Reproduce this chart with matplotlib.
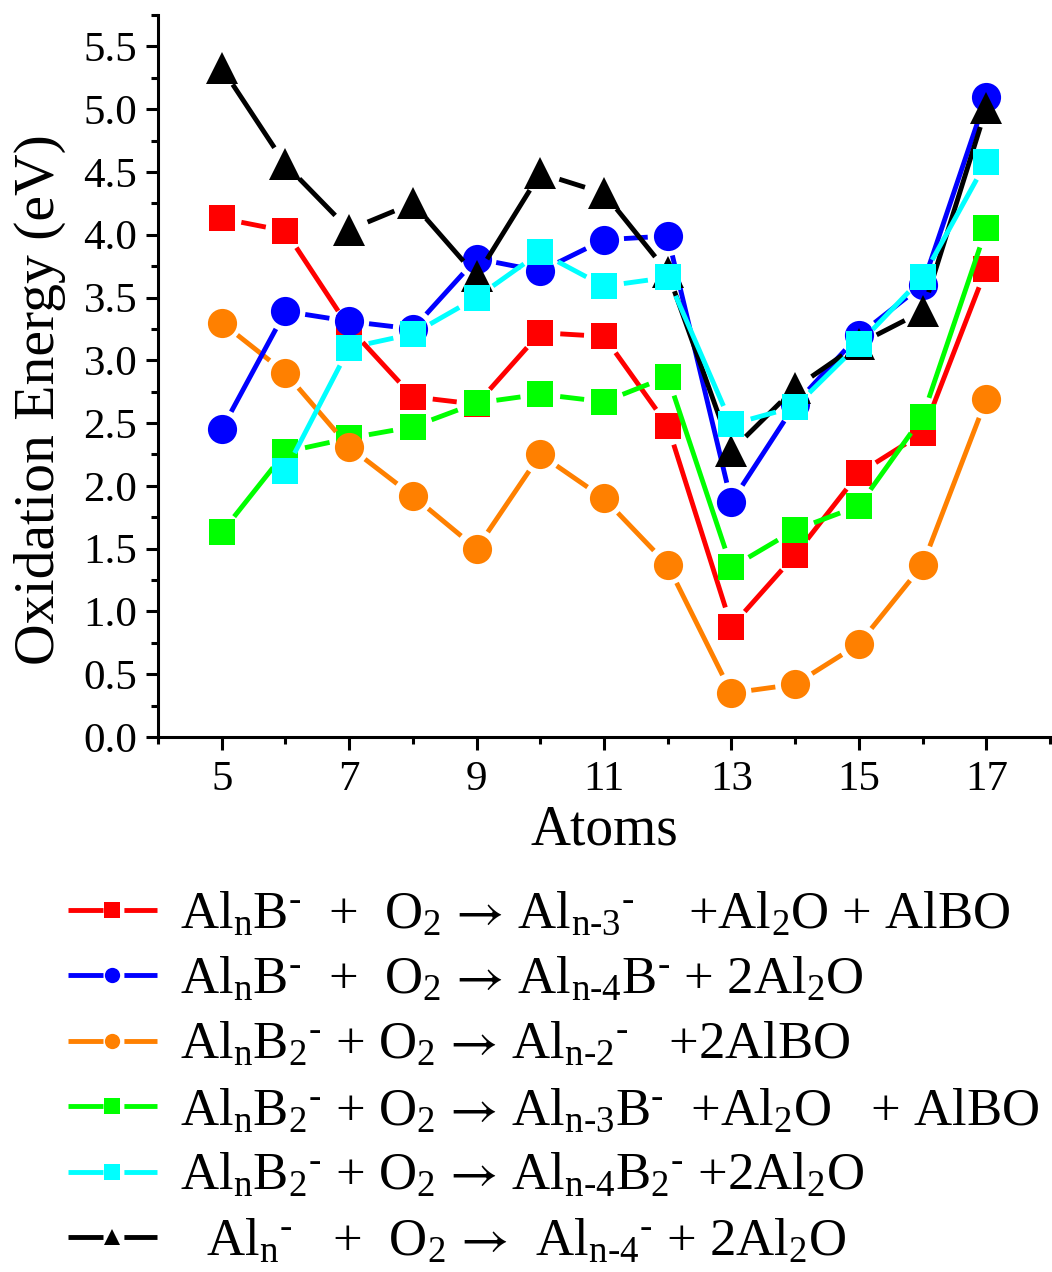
import numpy as np
import matplotlib
matplotlib.use("Agg")
import matplotlib.pyplot as plt
from matplotlib.lines import Line2D
from matplotlib.ticker import MultipleLocator, FormatStrFormatter

plt.rcParams['font.family'] = ['Liberation Serif', 'DejaVu Serif']
plt.rcParams['mathtext.fontset'] = 'custom'
plt.rcParams['mathtext.rm'] = 'Liberation Serif'
plt.rcParams['mathtext.it'] = 'Liberation Serif'
plt.rcParams['mathtext.sf'] = 'STIXGeneral'
plt.rcParams['mathtext.default'] = 'regular'

# ---------------- data ----------------
atoms = [5, 6, 7, 8, 9, 10, 11, 12, 13, 14, 15, 16, 17]
atoms_cyan = [6, 7, 8, 9, 10, 11, 12, 13, 14, 15, 16, 17]

red = [4.13, 4.03, 3.26, 2.71, 2.65, 3.22, 3.19, 2.48, 0.88, 1.45, 2.10, 2.42, 3.73]
blue = [2.45, 3.39, 3.31, 3.25, 3.81, 3.71, 3.96, 3.99, 1.87, 2.65, 3.20, 3.60, 5.10]
orange = [3.30, 2.90, 2.31, 1.92, 1.50, 2.25, 1.90, 1.37, 0.35, 0.42, 0.74, 1.37, 2.69]
green = [1.63, 2.27, 2.38, 2.47, 2.66, 2.73, 2.67, 2.87, 1.35, 1.65, 1.84, 2.55, 4.05]
cyan = [2.12, 3.10, 3.21, 3.50, 3.86, 3.59, 3.66, 2.49, 2.63, 3.13, 3.66, 4.58]
black = [5.33, 4.56, 4.04, 4.25, 3.67, 4.49, 4.33, 3.70, 2.28, 2.78, 3.13, 3.39, 5.01]

M = r'$^{\text{-}}$'
A = r' $\mathsf{→}$ '
labels = [
    r'Al$_n$B' + M + r'  +  O$_2$' + A + r'Al$_{n\text{-}3}$' + M + r'    +Al$_2$O + AlBO',
    r'Al$_n$B' + M + r'  +  O$_2$' + A + r'Al$_{n\text{-}4}$B' + M + r' + 2Al$_2$O',
    r'Al$_n$B$_2$' + M + r' + O$_2$' + A + r'Al$_{n\text{-}2}$' + M + r'   +2AlBO',
    r'Al$_n$B$_2$' + M + r' + O$_2$' + A + r'Al$_{n\text{-}3}$B' + M + r'  +Al$_2$O   + AlBO',
    r'Al$_n$B$_2$' + M + r' + O$_2$' + A + r'Al$_{n\text{-}4}$B$_2$' + M + r' +2Al$_2$O',
    r'  Al$_n$' + M + r'   +  O$_2$' + A + r' Al$_{n\text{-}4}$' + M + r' + 2Al$_2$O',
]

# ---------------- figure ----------------
W, H = 1052, 1272
fig = plt.figure(figsize=(W / 100, H / 100), dpi=100)
ax = fig.add_axes([158 / W, 1 - 737 / H, (1050 - 158) / W, (737 - 15) / H])
ax.set_xlim(4, 18)
ax.set_ylim(0, 5.75)

for s in ['top', 'right']:
    ax.spines[s].set_visible(False)
for s in ['left', 'bottom']:
    ax.spines[s].set_linewidth(2.2)

ax.set_xticks([5, 7, 9, 11, 13, 15, 17])
ax.xaxis.set_minor_locator(MultipleLocator(1))
ax.yaxis.set_major_locator(MultipleLocator(0.5))
ax.yaxis.set_minor_locator(MultipleLocator(0.25))
ax.yaxis.set_major_formatter(FormatStrFormatter('%.1f'))
ax.tick_params(which='major', direction='out', length=9, width=2.2, labelsize=31, pad=6)
ax.tick_params(which='minor', direction='out', length=5, width=2.2)
ax.tick_params(axis='x', which='major', pad=8)

ax.set_xlabel('Atoms', fontsize=40, labelpad=4)
ax.set_ylabel('Oxidation Energy (eV)', fontsize=41.5)
ax.yaxis.set_label_coords(-0.103, 0.467)

LW = 3.5
GAP = 20  # pixels between marker centre and line end

def gapped_series(x, y, color, marker, ms):
    pts = ax.transData.transform(np.column_stack([x, y]))
    inv = ax.transData.inverted()
    for i in range(len(pts) - 1):
        p0, p1 = pts[i], pts[i + 1]
        d = p1 - p0
        L = np.hypot(*d)
        if L <= 2 * GAP:
            continue
        u = d / L
        seg = inv.transform(np.array([p0 + u * GAP, p1 - u * GAP]))
        ax.plot(seg[:, 0], seg[:, 1], color=color, lw=LW, solid_capstyle='butt')
    ax.plot(x, y, linestyle='none', marker=marker, ms=ms, color=color, mew=0)

series = [
    (atoms, red, '#ff0000', 's', 18.5),
    (atoms, green, '#00ff00', 's', 18.5),
    (atoms, orange, '#ff8000', 'o', 21),
    (atoms, blue, '#0000ff', 'o', 21),
    (atoms, black, '#000000', '^', 23),
    (atoms_cyan, cyan, '#00ffff', 's', 18.5),
]
for x, y, c, m, ms in series:
    gapped_series(x, y, c, m, ms)

# legend
leg_order = [
    ('#ff0000', 's'), ('#0000ff', 'o'), ('#ff8000', 'o'),
    ('#00ff00', 's'), ('#00ffff', 's'), ('#000000', '^'),
]
handles = []
for c, m in leg_order:
    ln = Line2D([], [], color=c, lw=LW, dashes=(7.2, 4.3), dash_capstyle='butt')
    mk = Line2D([], [], color=c, marker=m, ms=11, linestyle='none', mew=0)
    handles.append((ln, mk))

fig.legend(handles, labels, loc='upper left', bbox_to_anchor=(68 / W, 1 - 891 / H),
           frameon=False, fontsize=38, borderpad=0, borderaxespad=0,
           handlelength=1.68, handletextpad=0.45, labelspacing=0.33)

fig.savefig('out.png', dpi=100)
